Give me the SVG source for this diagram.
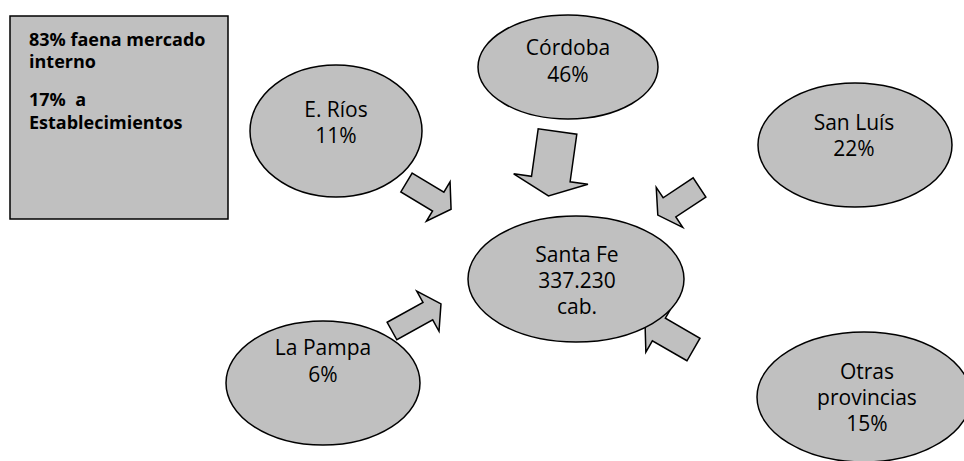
<svg xmlns="http://www.w3.org/2000/svg" width="964" height="461" viewBox="0 0 964 461">
<style>
.shape{fill:#c0c0c0;stroke:#000;stroke-width:1.5;stroke-linejoin:miter}
.lbl{font-family:"Open Sans","Liberation Sans",sans-serif;font-size:21px;fill:#000;text-anchor:middle}
.box{font-family:"Open Sans","Liberation Sans",sans-serif;font-size:18px;font-weight:bold;fill:#000}
</style>
<rect width="964" height="461" fill="#fff"/>
<g id="connectors">
<polygon class="shape" points="0,-11 37,-11 37,-23 52,0 37,23 37,11 0,11" transform="translate(406.5,182.5) rotate(31)"/>
<polygon class="shape" points="0,-19.5 48,-19.5 48,-37.5 65,0 48,37.5 48,19.5 0,19.5" transform="translate(557.5,131.5) rotate(98)"/>
<polygon class="shape" points="0,-11.5 36,-11.5 36,-24 50,0 36,24 36,11.5 0,11.5" transform="translate(699.5,187.5) rotate(146.5)"/>
<polygon class="shape" points="0,-10 41,-10 41,-23 56,0 41,23 41,10 0,10" transform="translate(392,331) rotate(-29)"/>
<polygon class="shape" points="0,-13 40,-13 40,-26 56,0 40,26 40,13 0,13" transform="translate(693.5,349.5) rotate(210)"/>
</g>
<g id="note">
<rect class="shape" x="10" y="16" width="218" height="203"/>
<text class="box" x="29" y="46">83% faena mercado</text>
<text class="box" x="29" y="68">interno</text>
<text class="box" x="29" y="106" xml:space="preserve">17%  a</text>
<text class="box" x="29" y="129">Establecimientos</text>
</g>
<g id="cordoba">
<ellipse class="shape" cx="568" cy="67" rx="90" ry="52"/>
<text class="lbl" x="568" y="55">Córdoba</text>
<text class="lbl" x="568" y="82">46%</text>
</g>
<g id="erios">
<ellipse class="shape" cx="336" cy="131" rx="86" ry="66"/>
<text class="lbl" x="336" y="117">E. Ríos</text>
<text class="lbl" x="336" y="143">11%</text>
</g>
<g id="sanluis">
<ellipse class="shape" cx="855" cy="145" rx="97" ry="62"/>
<text class="lbl" x="854" y="130">San Luís</text>
<text class="lbl" x="854" y="156">22%</text>
</g>
<g id="santafe">
<ellipse class="shape" cx="576" cy="279" rx="108" ry="63"/>
<text class="lbl" x="577" y="262">Santa Fe</text>
<text class="lbl" x="577" y="288">337.230</text>
<text class="lbl" x="577" y="314">cab.</text>
</g>
<g id="lapampa">
<ellipse class="shape" cx="323" cy="383" rx="97" ry="62"/>
<text class="lbl" x="323" y="355">La Pampa</text>
<text class="lbl" x="323" y="382">6%</text>
</g>
<g id="otras">
<ellipse class="shape" cx="864" cy="397" rx="107" ry="65"/>
<text class="lbl" x="867" y="379">Otras</text>
<text class="lbl" x="867" y="405">provincias</text>
<text class="lbl" x="867" y="431">15%</text>
</g>
</svg>
